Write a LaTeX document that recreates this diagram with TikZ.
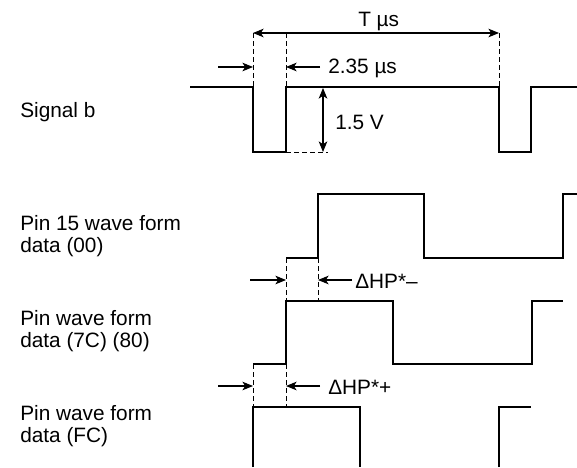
\documentclass[tikz,border=0pt]{standalone}
\usepackage{fontspec}
\setmainfont{Liberation Sans}
\usetikzlibrary{arrows.meta}
\begin{document}
\begin{tikzpicture}[x=0.75pt,y=-0.75pt,
  wave/.style={line width=1.6pt,line join=miter},
  dim/.style={line width=0.8pt},
  guide/.style={line width=0.75pt,dash pattern=on 3.5pt off 2.5pt},
  tipr/.style={-{Stealth[length=8pt,width=6.5pt,inset=2.2pt]}},
  tipb/.style={{Stealth[length=8pt,width=6.5pt,inset=2.2pt]}-{Stealth[length=8pt,width=6.5pt,inset=2.2pt]}},
  lbl/.style={anchor=base west,inner sep=0pt,font=\fontsize{15.6}{16}\selectfont}]
\useasboundingbox (0,0) rectangle (577,467);
% left labels
\node[lbl] (sb) at (20,117) {Signal b};
\node[lbl] (p15a) at (20,230) {Pin 15 wave form};
\node[lbl] (p15b) at (20,252) {data (00)};
\node[lbl] (p7a) at (20,325) {Pin wave form};
\node[lbl] (p7b) at (20,347) {data (7C) (80)};
\node[lbl] (pfa) at (20,420) {Pin wave form};
\node[lbl] (pfb) at (20,442) {data (FC)};
% Signal b
\draw[wave] (190,87) -- (253,87) -- (253,152) -- (286,152) -- (286,87) -- (499,87) -- (499,152) -- (531,152) -- (531,87) -- (577,87);
\draw[guide] (253,33) -- (253,87);
\draw[guide] (286,33) -- (286,87);
\draw[guide] (499,33) -- (499,87);
\draw[guide] (286,152) -- (328,152);
\draw[dim,tipb] (253,33) -- (499,33);
\node[lbl] (T) at (358,27) {T µs};
\draw[dim,tipr] (218,67) -- (253,67);
\draw[dim,tipr] (320,67) -- (286,67);
\node[lbl] (w) at (328,74) {2.35 µs};
\draw[dim,tipb] (323,88) -- (323,152);
\node[lbl] (v) at (335,129) {1.5 V};
% Pin 15
\draw[wave] (286,258) -- (318,258) -- (318,194) -- (424,194) -- (424,258) -- (563,258) -- (563,194) -- (577,194);
\draw[guide] (286,258) -- (286,301);
\draw[guide] (318,258) -- (318,301);
\draw[dim,tipr] (250,280) -- (286,280);
\draw[dim,tipr] (352,280) -- (318,280);
\node[lbl] (hm) at (355,288) {ΔHP*–};
% Pin 7C
\draw[wave] (253,364) -- (286,364) -- (286,301) -- (393,301) -- (393,364) -- (532,364) -- (532,301) -- (563,301);
\draw[guide] (253,364) -- (253,407);
\draw[guide] (286,364) -- (286,407);
\draw[dim,tipr] (218,386) -- (253,386);
\draw[dim,tipr] (320,386) -- (286,386);
\node[lbl] (hp) at (328,394) {ΔHP*+};
% Pin FC
\draw[wave] (253,467) -- (253,407) -- (360,407) -- (360,467);
\draw[wave] (499,467) -- (499,407) -- (531,407);
\end{tikzpicture}
\end{document}
